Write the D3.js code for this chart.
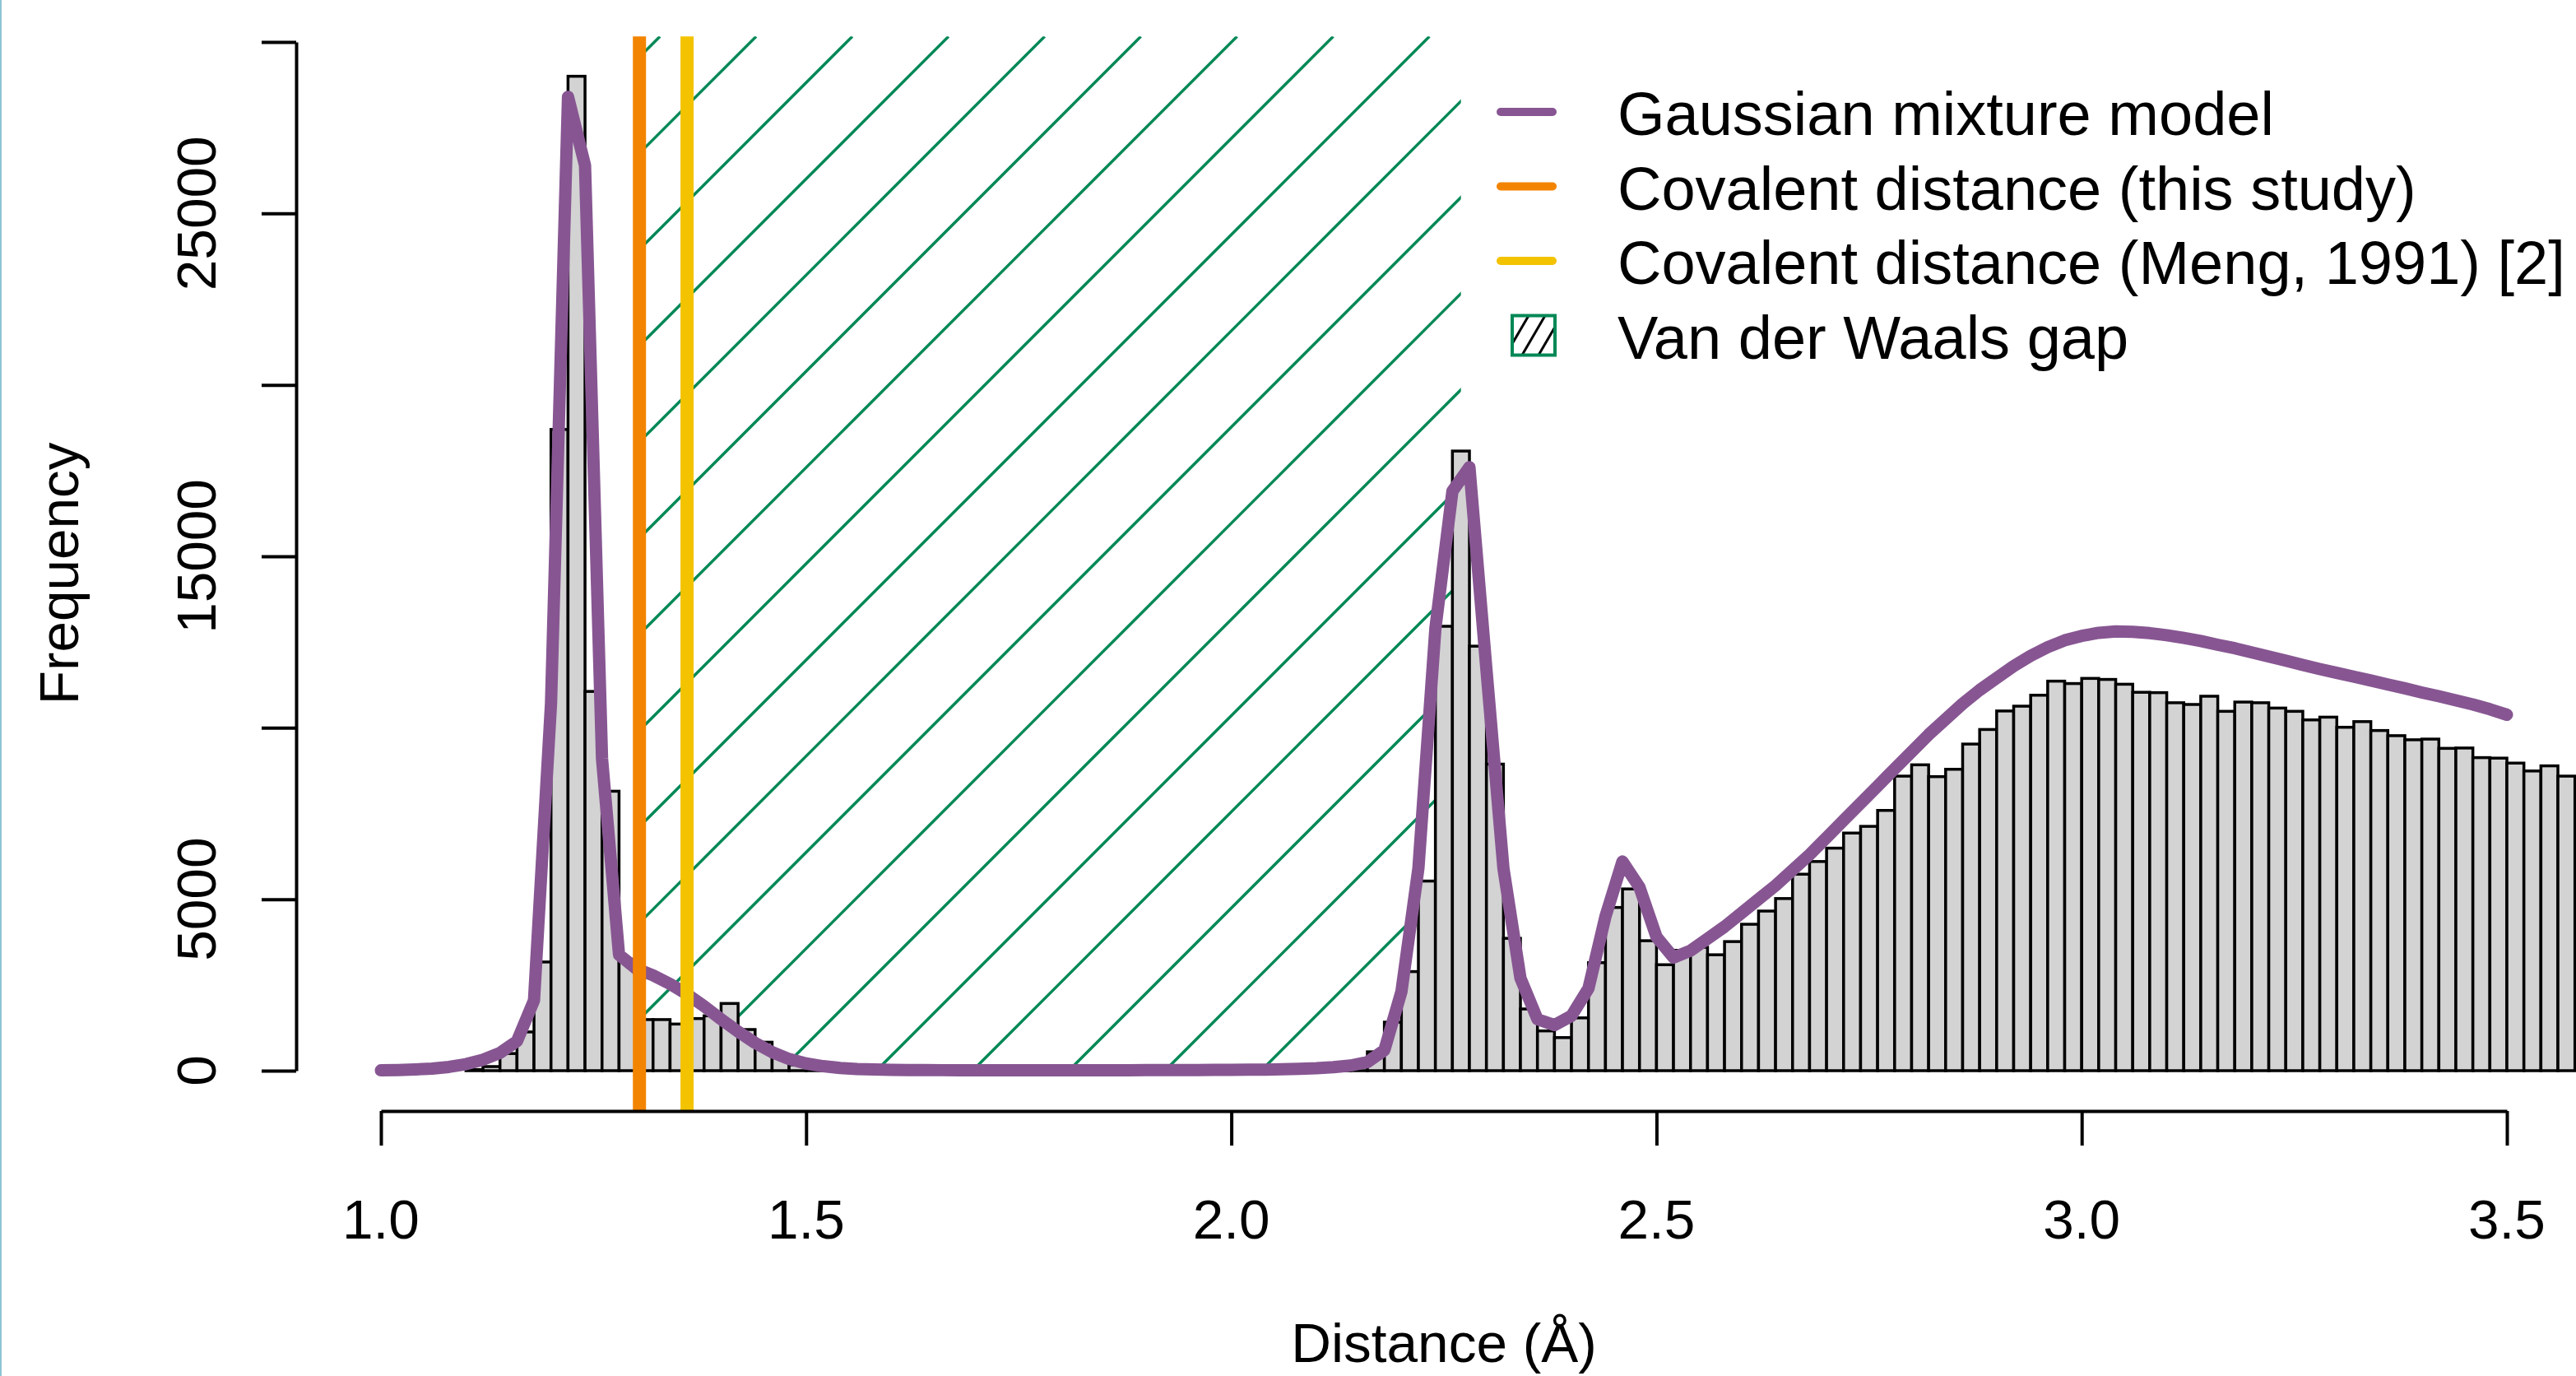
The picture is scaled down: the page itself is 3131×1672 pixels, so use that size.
<!DOCTYPE html>
<html>
<head>
<meta charset="utf-8">
<script src="https://cdn.jsdelivr.net/npm/d3@7"></script>
<style>
  body { margin: 0; background: #fff; }
  svg { display: block; }
  text { font-family: "Liberation Sans", Arial, Helvetica, sans-serif; fill: #000; }
</style>
</head>
<body>
<div id="chart"></div>
<script>
// histogram of distances: bins of 0.02 A starting at 1.10
var binStart = 1.10, binWidth = 0.02;
var counts = [
  30, 120, 500, 1130, 3170, 18700, 29000, 11060, 8150, 3250,      // 1.10 - 1.28
  1490, 1490, 1360, 1520, 1600, 1960, 1200, 830, 450, 170,        // 1.30 - 1.48
  60, 20, 10,                                                     // 1.50 - 1.54
  0, 0, 0, 0, 0, 0, 0, 0, 0, 0, 0, 0, 0, 0, 0, 0, 0, 0, 0, 0,     // 1.56 - 1.94
  0, 0, 0, 0, 0, 0, 0,                                            // 1.96 - 2.08
  20, 50, 120, 550, 1415, 2890, 5530, 12960, 18070, 12380,        // 2.10 - 2.28
  8940, 3860, 1800, 1160, 965, 1540, 3150, 4760, 5300, 3790,      // 2.30 - 2.48
  3090, 3510, 3600, 3380, 3765, 4270, 4655, 5020, 5730, 6100,     // 2.50 - 2.68
  6490, 6930, 7125, 7590, 8590, 8920, 8575, 8790, 9525, 9950,     // 2.70 - 2.88
  10490, 10630, 10950, 11360, 11290, 11440, 11410, 11270, 11035, 11025, // 2.90 - 3.08
  10730, 10680, 10920, 10480, 10750, 10730, 10575, 10480, 10230, 10310, // 3.10 - 3.28
  10015, 10180, 9920, 9770, 9650, 9670, 9400, 9410, 9130, 9115,   // 3.30 - 3.48
  8970, 8740, 8890, 8590                                          // 3.50 - 3.56
];

// gaussian mixture model, evaluated every 0.02 A from 1.00 to 3.50
var gmmStart = 1.00, gmmStep = 0.02;
var gmmY = [
  10, 20, 35, 60, 110, 190, 320, 520, 860, 2050,
  10700, 28400, 26400, 9100, 3380, 2980, 2780, 2530, 2230, 1880,
  1500, 1140, 810, 540, 340, 210, 130, 80, 50, 35,
  25, 20, 18, 15, 14, 13, 12, 12, 12, 12,
  12, 13, 13, 14, 15, 16, 17, 18, 20, 22,
  25, 28, 32, 40, 52, 70, 100, 150, 250, 600,
  2300, 5900, 12900, 16900, 17600, 11700, 5900, 2700, 1500, 1330,
  1600, 2400, 4500, 6100, 5350, 3900, 3300, 3500, 3850, 4200,
  4600, 5000, 5400, 5850, 6300, 6800, 7300, 7800, 8300, 8800,
  9300, 9800, 10250, 10700, 11100, 11450, 11800, 12100, 12350, 12550,
  12680, 12770, 12810, 12800, 12760, 12700, 12620, 12530, 12420, 12320,
  12200, 12080, 11960, 11830, 11710, 11600, 11490, 11380, 11260, 11150,
  11030, 10920, 10800, 10680, 10540, 10380
];

var covalentThis = 1.304;
var covalentMeng = 1.36;
var vdwGap = [1.304, 2.27];

var xTicks = [1.0, 1.5, 2.0, 2.5, 3.0, 3.5];
var yTicks = [0, 5000, 10000, 15000, 20000, 25000, 30000];
var yLabelled = [0, 5000, 15000, 25000];

var legendLabels = ["Gaussian mixture model", "Covalent distance (this study)",
                    "Covalent distance (Meng, 1991) [2]", "Van der Waals gap"];

var purple = "#875692", orange = "#F38400", yellow = "#F3C300", green = "#008856";

var W = 3131, H = 1672;

var svg = d3.select("#chart")
  .append("svg")
    .attr("width", W)
    .attr("height", H);

var x = d3.scaleLinear().domain([1, 3.5]).range([463, 3047]);
var y = d3.scaleLinear().domain([0, 30000]).range([1301, 51]);

// plot region, R style (4% extension of the data range)
var yMax = d3.max(counts);
var plotTop = y(yMax * 1.04), plotBottom = y(-yMax * 0.04);

// thin border at the left edge
svg.append("rect").attr("x", 0).attr("y", 0).attr("width", 2).attr("height", H)
  .attr("fill", "#8cc4d4");

// hatched Van der Waals gap
svg.append("clipPath").attr("id", "gapclip")
  .append("rect")
    .attr("x", x(vdwGap[0]))
    .attr("y", plotTop)
    .attr("width", x(vdwGap[1]) - x(vdwGap[0]))
    .attr("height", y(0) - plotTop);

var hatchPhase = 846.5, hatchStep = 116.9;
var cMin = x(vdwGap[0]) + plotTop, cMax = x(vdwGap[1]) + y(0);
var hatch = [];
for (var c = hatchPhase - Math.ceil((hatchPhase - cMin) / hatchStep) * hatchStep; c <= cMax; c += hatchStep) hatch.push(c);

svg.append("g")
    .attr("clip-path", "url(#gapclip)")
  .selectAll("line")
  .data(hatch)
  .enter()
  .append("line")
    .attr("x1", function (c) { return c - y(0); })
    .attr("y1", y(0))
    .attr("x2", function (c) { return c - plotTop; })
    .attr("y2", plotTop)
    .style("stroke", green)
    .style("stroke-width", 3.5);

// histogram bars
svg.append("g")
  .selectAll("rect")
  .data(counts)
  .enter()
  .append("rect")
    .attr("x", function (d, i) { return x(binStart + i * binWidth); })
    .attr("y", function (d) { return y(d); })
    .attr("width", function (d, i) { return x(binStart + (i + 1) * binWidth) - x(binStart + i * binWidth); })
    .attr("height", function (d) { return y(0) - y(d); })
    .style("fill", "#d3d3d3")
    .style("stroke", "#000")
    .style("stroke-width", 3.5);

// gaussian mixture curve
var line = d3.line()
  .x(function (d, i) { return x(gmmStart + i * gmmStep); })
  .y(function (d) { return y(d); });

svg.append("path")
  .datum(gmmY)
  .attr("d", line)
  .style("fill", "none")
  .style("stroke", purple)
  .style("stroke-width", 15)
  .style("stroke-linejoin", "round")
  .style("stroke-linecap", "round");

// covalent distances
[[covalentThis, orange], [covalentMeng, yellow]].forEach(function (v) {
  svg.append("line")
    .attr("x1", x(v[0])).attr("x2", x(v[0]))
    .attr("y1", plotTop).attr("y2", plotBottom)
    .style("stroke", v[1])
    .style("stroke-width", 16);
});

// axes
var yAxis = svg.append("g")
  .attr("transform", "translate(360,0)")
  .call(d3.axisLeft(y).tickValues(yTicks).tickSize(42).tickSizeOuter(0).tickFormat(""));
var xAxis = svg.append("g")
  .attr("transform", "translate(0,1350)")
  .call(d3.axisBottom(x).tickValues(xTicks).tickSize(42).tickSizeOuter(0).tickFormat(""));
svg.selectAll(".domain, .tick line").style("stroke", "#000").style("stroke-width", 4);

svg.append("g")
  .selectAll("text")
  .data(yLabelled)
  .enter()
  .append("text")
    .attr("transform", function (d) { return "translate(262," + y(d) + ") rotate(-90)"; })
    .attr("text-anchor", "middle")
    .style("font-size", "67.5px")
    .text(function (d) { return d; });

svg.append("g")
  .selectAll("text")
  .data(xTicks)
  .enter()
  .append("text")
    .attr("x", function (d) { return x(d); })
    .attr("y", 1505)
    .attr("text-anchor", "middle")
    .style("font-size", "67.5px")
    .text(function (d) { return d3.format(".1f")(d); });

svg.append("text")
  .attr("transform", "translate(95," + (plotTop + plotBottom) / 2 + ") rotate(-90)")
  .attr("text-anchor", "middle")
  .style("font-size", "67.5px")
  .text("Frequency");

svg.append("text")
  .attr("x", (x(0.9) + x(3.6)) / 2)
  .attr("y", 1655)
  .attr("text-anchor", "middle")
  .style("font-size", "67.5px")
  .text("Distance (Å)");

// legend
var legend = svg.append("g");
var legendColors = [purple, orange, yellow];
legendLabels.forEach(function (lab, i) {
  var base = 164 + i * 90.5;
  legend.append("text")
    .attr("x", 1966).attr("y", base)
    .style("font-size", "74px")
    .text(lab);
  if (i < 3) {
    legend.append("line")
      .attr("x1", 1824).attr("x2", 1887)
      .attr("y1", base - 28).attr("y2", base - 28)
      .style("stroke", legendColors[i])
      .style("stroke-width", 10)
      .style("stroke-linecap", "round");
  } else {
    var bx = 1838, by = base - 52, bw = 52, bh = 48;
    legend.append("clipPath").attr("id", "boxclip")
      .append("rect").attr("x", bx).attr("y", by).attr("width", bw).attr("height", bh);
    legend.append("g").attr("clip-path", "url(#boxclip)")
      .selectAll("line")
      .data([-8, 12, 32, 52])
      .enter()
      .append("line")
        .attr("x1", function (o) { return bx + o; })
        .attr("y1", by + bh)
        .attr("x2", function (o) { return bx + o + 28; })
        .attr("y2", by)
        .style("stroke", "#000")
        .style("stroke-width", 3);
    legend.append("rect")
      .attr("x", bx).attr("y", by).attr("width", bw).attr("height", bh)
      .style("fill", "none")
      .style("stroke", green)
      .style("stroke-width", 4);
  }
});
</script>
</body>
</html>
